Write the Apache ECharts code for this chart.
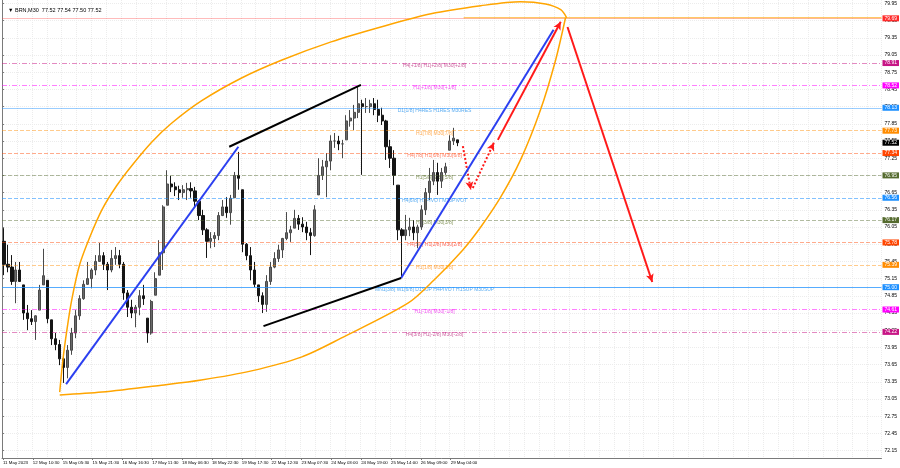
<!DOCTYPE html>
<html><head><meta charset="utf-8">
<script src="https://cdn.jsdelivr.net/npm/echarts@6/dist/echarts.min.js"></script>
<style>html,body{margin:0;padding:0;background:#fff}#c{width:900px;height:468px}</style>
</head><body><div id="c"></div>
<script>
// ---- data ----
const symbolTitle = '\u25BC BRN,M30  77.52 77.54 77.50 77.52';
const barHighs = [76.03,75.74,75.56,75.44,75.44,75.04,74.69,74.60,74.51,75.04,
75.67,75.12,74.43,74.20,74.08,73.82,73.99,74.29,74.60,74.86,
75.12,75.44,75.33,75.56,75.77,75.61,75.44,75.65,75.70,75.65,
75.44,74.95,74.78,74.69,74.95,75.04,74.46,74.78,75.26,75.82,
76.43,77.04,76.94,76.83,76.77,76.78,76.82,76.83,76.75,76.52,
76.35,76.03,75.96,75.96,76.31,76.52,76.57,76.61,77.01,77.36,
76.70,75.77,75.70,75.44,75.04,74.91,75.21,75.44,75.61,75.74,
75.86,76.31,76.07,76.35,76.26,76.22,76.14,76.03,76.43,77.25,
77.22,77.34,77.65,77.69,77.64,77.57,78.00,78.09,78.18,78.51,
78.27,78.30,78.27,78.30,78.27,78.13,77.92,77.57,77.39,76.78,
76.03,76.26,76.21,76.17,76.09,76.43,76.73,77.08,77.22,77.17,
77.08,77.17,77.65,77.78,77.57];
const barLows = [75.21,75.26,75.04,74.72,75.09,74.43,74.25,74.34,74.08,74.60,
75.04,74.37,73.99,73.90,73.64,73.33,73.41,73.82,74.11,74.43,
74.78,75.04,74.98,75.21,75.44,75.30,74.95,75.26,75.39,75.33,
74.78,74.48,74.46,74.30,74.51,74.69,74.03,74.17,74.86,75.21,
75.30,76.43,76.66,76.59,76.52,76.56,76.52,76.56,76.38,76.17,
75.91,75.51,75.68,75.70,75.82,76.24,76.21,76.09,76.56,76.70,
75.61,75.47,75.12,75.00,74.74,74.55,74.57,75.04,75.33,75.44,
75.51,75.82,75.79,76.03,76.00,75.96,75.82,75.56,75.88,76.61,
76.87,76.57,77.04,77.43,77.39,77.25,77.57,77.80,77.74,77.95,
76.96,78.04,78.04,78.00,77.88,77.83,77.22,77.08,76.78,75.82,
75.18,75.82,75.89,75.82,75.68,76.00,76.26,76.52,76.78,76.61,
76.73,76.96,77.39,77.48,77.46];
const barCloses = [75.40,75.35,75.10,75.30,75.10,74.55,74.45,74.40,74.50,74.95,
75.20,74.45,74.10,74.00,73.75,73.60,73.90,74.20,74.50,74.80,
75.05,75.15,75.30,75.45,75.55,75.40,75.30,75.50,75.55,75.40,
74.90,74.65,74.55,74.65,74.85,74.80,74.20,74.75,75.15,75.60,
76.40,76.80,76.75,76.70,76.65,76.70,76.72,76.68,76.50,76.25,
76.00,75.80,75.85,75.90,76.25,76.40,76.30,76.55,76.95,76.90,
75.75,75.55,75.30,75.05,74.85,74.70,75.10,75.35,75.50,75.65,
75.85,75.95,76.00,76.20,76.10,76.05,75.95,75.90,76.35,76.95,
77.10,77.20,77.55,77.55,77.50,77.50,77.90,77.95,78.05,78.20,
78.15,78.15,78.20,78.10,78.00,77.90,77.45,77.25,76.95,76.00,
75.90,76.00,76.05,75.95,76.05,76.35,76.65,76.85,77.00,76.85,
77.00,77.10,77.55,77.60,77.52];
const firstOpen = 75.80;
const lastPrice = 77.52;

const timeLabels = ['11 May 2023','12 May 10:30','15 May 05:30','15 May 21:30','16 May 16:30','17 May 11:30',
'18 May 06:30','18 May 22:30','19 May 17:30','22 May 12:30','23 May 07:30','24 May 03:00','24 May 19:00',
'25 May 14:00','26 May 09:00','29 May 04:00'];
const timeLabelPos = [0.25,7.75,15.25,22.75,30.25,37.75,45.25,52.75,60.25,67.75,75.25,82.75,90.25,97.75,105.25,112.75];
const priceTicks = [72.15,72.45,72.75,73.05,73.35,73.65,73.95,74.25,74.55,74.85,75.15,75.45,75.75,76.05,76.35,
76.65,76.95,77.25,77.55,77.85,78.15,78.45,78.75,79.05,79.35,79.65,79.95];

const levelPrices = [79.69,78.91,78.52,78.13,77.73,77.34,76.95,76.56,76.17,75.78,75.39,75.00,74.61,74.22];
const levelTexts = ['','H4[+1/8] H1[+2/8] M30[+2/8]','H1[+1/8] M30[+1/8]','D1[1/8] H4RES H1RES M30RES',
'H1[7/8] M30[7/8]','H4[7/8] H1[6/8] M30[6/8]','H1[5/8] M30[5/8]','H4[6/8] H1PIVOT M30PIVOT',
'H1[3/8] M30[3/8]','H4[5/8] H1[2/8] M30[2/8]','H1[1/8] M30[1/8]',
'MN1[3/8] W1[6/8] D1SUP H4PIVOT H1SUP M30SUP','H1[-1/8] M30[-1/8]','H4[3/8] H1[-2/8] M30[-2/8]'];

const blueLine1 = [[16.1,73.31],[59.4,77.45]];
const blueLine2 = [[100.3,75.16],[138.6,79.49]];
const blackLine1 = [[57.1,77.45],[90.2,78.53]];
const blackLine2 = [[65.7,74.32],[100.3,75.16]];
const dottedArrowDown = [[115.8,77.46],[117.8,76.70]];
const dottedArrowUp = [[118.3,76.73],[123.6,77.52]];
const redArrowUp = [[124.6,77.57],[140.4,79.63]];
const redArrowDown = [[142.1,79.54],[163.4,75.09]];
const topOrangeLine = [[116.0,79.70],[221,79.70]];
const arcUpper = [[14.5,73.17],[15.3,73.73],[16.3,74.25],[17.5,74.77],[19.5,75.39],[22.1,75.88],[25.1,76.35],
[28.8,76.77],[32.6,77.12],[37.6,77.53],[42.6,77.86],[50.1,78.25],[60.2,78.65],[70.2,78.96],[82.7,79.28],
[95.2,79.54],[107.8,79.77],[120.3,79.91],[130.3,79.98],[136.6,79.94],[140.4,79.84],[141.9,79.70]];
const arcLower = [[14.5,73.12],[25.1,73.17],[40.1,73.29],[50.1,73.38],[62.7,73.54],[75.2,73.78],[85.2,74.11],
[102.0,74.72],[108.5,75.12],[115.8,75.65],[120.3,76.05],[125.3,76.57],[130.3,77.22],[135.3,78.09],
[139.1,78.96],[141.6,79.70]];

// ---- styling / build ----
const SLOTS = 221;
const levelColors = ['#ff2a2a','#c71585','#ff00ff','#1e90ff','#ff8c00','#ff4500','#556b2f','#1e90ff',
'#556b2f','#ff4500','#ff8c00','#1e90ff','#ff00ff','#c71585'];
const levelLineColors = ['rgba(255,60,60,0.35)','rgba(199,21,133,0.5)','rgba(255,0,255,0.5)','rgba(30,144,255,0.45)',
'rgba(255,140,0,0.45)','rgba(255,69,0,0.45)','rgba(85,107,47,0.45)','rgba(30,144,255,0.55)',
'rgba(85,107,47,0.45)','rgba(255,69,0,0.45)','rgba(255,140,0,0.45)','rgba(30,144,255,0.75)',
'rgba(255,0,255,0.5)','rgba(199,21,133,0.5)'];
const levelTextColors = ['#ff2a2a','#c0408a','#ee30ee','#3399ee','#ff9a30','#ff6040','#6b7f3a','#3399ee',
'#6b7f3a','#ff4a3a','#ff9a30','#3399ee','#ee30ee','#c0408a'];
const dashDot = [5,2,1,2];
const levelTypes = ['solid',dashDot,dashDot,'solid','dashed','dashed','dashed','dashed','dashed','dashed','dashed','solid',dashDot,dashDot];

const candles = [];
let prev = firstOpen;
for (let i = 0; i < barCloses.length; i++) {
  const o = Math.min(barHighs[i], Math.max(barLows[i], prev));
  candles.push([o, barCloses[i], barLows[i], barHighs[i]]);
  prev = barCloses[i];
}

const FONT = 'Liberation Sans';
const TAGFS = 5;
const tagLines = levelPrices.map((p, i) => ({
  yAxis: p,
  lineStyle: {color: levelLineColors[i], type: levelTypes[i], width: 1},
  label: {show: true, position: 'end', distance: 1, formatter: p.toFixed(2), color: '#fff',
    backgroundColor: levelColors[i], padding: [1, 2, 0, 2], fontSize: TAGFS, fontFamily: FONT}
}));
tagLines.push({yAxis: lastPrice, lineStyle: {color: 'rgba(0,0,0,0)'},
  label: {show: true, position: 'end', distance: 1, formatter: lastPrice.toFixed(2), color: '#fff',
    backgroundColor: '#000', padding: [1, 2, 0, 2], fontSize: TAGFS, fontFamily: FONT}});

const LABEL_X = 108.7;
const levelLabelData = [];
levelPrices.forEach((p, i) => {
  if (!levelTexts[i]) return;
  levelLabelData.push({value: [LABEL_X, p], label: {color: levelTextColors[i]}, name: levelTexts[i]});
});

function seg(data, color, width, type) {
  return {type: 'line', xAxisIndex: 1, yAxisIndex: 0, data: data, symbol: 'none', silent: true,
    lineStyle: {color: color, width: width, type: type || 'solid'}, z: 5};
}
function arrow(pts, type) {
  return [{coord: pts[0], lineStyle: {color: '#ff1a1a', width: 2, type: type}},
          {coord: pts[1]}];
}

const chart = echarts.init(document.getElementById('c'), null, {renderer: 'canvas'});
chart.setOption({
  animation: false,
  backgroundColor: '#fff',
  textStyle: {fontFamily: FONT},
  title: {text: symbolTitle, left: 3, top: 2, textStyle: {fontSize: 5.5, fontWeight: 'normal', color: '#000', fontFamily: FONT}},
  grid: {left: 0, top: 0, width: 882, height: 458},
  xAxis: [
    {type: 'category', data: Array.from({length: SLOTS}, (_, i) => i), show: false, boundaryGap: true},
    {type: 'value', min: 0, max: SLOTS, position: 'bottom',
      axisLine: {show: true, onZero: false, lineStyle: {color: '#7a7a7a'}},
      axisTick: {show: true, customValues: timeLabelPos, length: 2, lineStyle: {color: '#7a7a7a'}},
      axisLabel: {customValues: timeLabelPos, align: 'left', margin: 3, fontSize: 4.4, color: '#000', fontFamily: FONT,
        showMinLabel: true, showMaxLabel: true, hideOverlap: false,
        formatter: v => { const k = timeLabelPos.findIndex(t => Math.abs(t - v) < 0.01); return k >= 0 ? timeLabels[k] : ''; }},
      splitLine: {show: false}},
    {type: 'value', min: 0, max: SLOTS, interval: 3.75, show: true, position: 'bottom',
      axisLine: {show: false}, axisTick: {show: false}, axisLabel: {show: false},
      splitLine: {show: true, lineStyle: {color: '#ececec', type: 'dotted', width: 1}}}
  ],
  yAxis: [{type: 'value', min: 72.02, max: 80.01, position: 'right', scale: true,
    axisLine: {show: true, lineStyle: {color: '#7a7a7a'}},
    axisTick: {show: true, customValues: priceTicks, length: 2, lineStyle: {color: '#7a7a7a'}},
    axisLabel: {customValues: priceTicks, formatter: v => v.toFixed(2), fontSize: 5, color: '#000', margin: 3, fontFamily: FONT,
      showMinLabel: true, showMaxLabel: true, hideOverlap: false},
    splitLine: {show: true, lineStyle: {color: '#ececec', type: 'dotted'}}}],
  series: [
    {type: 'candlestick', xAxisIndex: 0, yAxisIndex: 0, data: candles, barWidth: 2.6, silent: true,
      itemStyle: {color: '#6a6a6a', color0: '#151515', borderColor: '#4a4a4a', borderColor0: '#151515', borderWidth: 1}, z: 3},
    {type: 'line', xAxisIndex: 1, yAxisIndex: 0, data: [], silent: true,
      markLine: {silent: true, symbol: 'none', animation: false, data: tagLines}, z: 1},
    {type: 'scatter', xAxisIndex: 1, yAxisIndex: 0, data: levelLabelData, symbolSize: 0, silent: true, z: 2,
      label: {show: true, position: 'bottom', distance: 0, fontSize: 5, fontFamily: FONT, formatter: p => p.name}},
    Object.assign(seg(arcUpper, '#ffa500', 1.5), {smooth: 0.3}),
    Object.assign(seg(arcLower, '#ffa500', 1.5), {smooth: 0.3}),
    seg(topOrangeLine, 'rgba(255,165,0,0.8)', 1.2),
    seg(blueLine1, '#2b3ff0', 2),
    seg(blueLine2, '#2b3ff0', 2),
    seg(blackLine1, '#000', 2),
    seg(blackLine2, '#000', 2),
    {type: 'line', xAxisIndex: 1, yAxisIndex: 0, data: [], silent: true, z: 6,
      markLine: {silent: true, symbol: ['none', 'arrow'], symbolSize: [6, 8], animation: false,
        label: {show: false},
        data: [arrow(dottedArrowDown, 'dotted'), arrow(dottedArrowUp, 'dotted'), arrow(redArrowUp, 'solid'), arrow(redArrowDown, 'solid')]}}
  ]
});
</script></body></html>
